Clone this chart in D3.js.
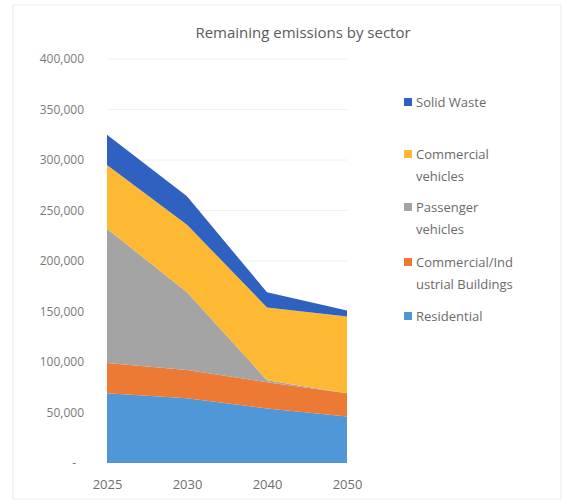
<!DOCTYPE html>
<html>
<head>
<title>Remaining emissions by sector</title>
<script src="https://d3js.org/d3.v7.min.js"></script>
<style>
  body { margin: 0; background: #fff; }
  text { font-family: "Open Sans", "Liberation Sans", sans-serif; }
</style>
</head>
<body>
<script>
var width = 572,
    height = 504;

// data (tonnes)
var years = ["2025", "2030", "2040", "2050"];
var sectors = ["Residential", "Commercial/Industrial Buildings", "Passenger vehicles", "Commercial vehicles", "Solid Waste"];
var residential = [69000, 64000, 54000, 46000];
var buildings = [30000, 28000, 26000, 23000];
var passenger = [133000, 77000, 2000, 0];
var commercial = [63000, 67000, 72000, 76000];
var solidWaste = [30000, 28000, 15000, 6000];
var yTicks = [0, 50000, 100000, 150000, 200000, 250000, 300000, 350000, 400000];

var colors = ["#4f97d6", "#ec7a34", "#a4a4a4", "#fdb933", "#2f62c0"];
var legendLines = [
    ["Solid Waste"],
    ["Commercial", "vehicles"],
    ["Passenger", "vehicles"],
    ["Commercial/Ind", "ustrial Buildings"],
    ["Residential"]
];
var legendColorIdx = [4, 3, 2, 1, 0];
var legendY = [103, 155, 208, 263, 317];

var rows = years.map(function(y, i) {
    return {year: y, r: residential[i], b: buildings[i], p: passenger[i], c: commercial[i], s: solidWaste[i]};
});
var keys = ["r", "b", "p", "c", "s"];

var svg = d3.select("body").append("svg")
    .attr("width", width)
    .attr("height", height);

// faint frame of the chart area
svg.append("rect")
    .attr("x", 13).attr("y", 5)
    .attr("width", 548).attr("height", 494)
    .attr("fill", "none")
    .attr("stroke", "#ececec");

var x = d3.scalePoint()
    .domain(years)
    .range([107, 347]);

var y = d3.scaleLinear()
    .domain([0, 400000])
    .range([463, 59]);

// gridlines
svg.append("g")
    .selectAll("line")
    .data(yTicks.slice(1))
    .enter().append("line")
    .attr("x1", 107).attr("x2", 347)
    .attr("y1", function(d) { return y(d); })
    .attr("y2", function(d) { return y(d); })
    .attr("stroke", "#f0f0f0");

var stack = d3.stack().keys(keys);
var series = stack(rows);

var area = d3.area()
    .x(function(d) { return x(d.data.year); })
    .y0(function(d) { return y(d[0]); })
    .y1(function(d) { return y(d[1]); });

svg.append("g")
    .selectAll("path")
    .data(series)
    .enter().append("path")
    .attr("d", area)
    .attr("fill", function(d, i) { return colors[i]; });

// y axis labels
var yAxis = d3.axisLeft(y)
    .tickValues(yTicks)
    .tickSize(0)
    .tickPadding(0)
    .tickFormat(function(d) { return d === 0 ? "-" : d3.format(",")(d); });
var gy = svg.append("g")
    .attr("transform", "translate(84,0)")
    .call(yAxis);
gy.select(".domain").remove();
gy.selectAll("text")
    .attr("fill", "#7a7a7a")
    .style("font-size", "12px")
    .attr("dx", function(d) { return d === 0 ? "-8px" : 0; });

// x axis labels
var xAxis = d3.axisBottom(x).tickSize(0).tickPadding(0);
var gx = svg.append("g")
    .attr("transform", "translate(0,480)")
    .call(xAxis);
gx.select(".domain").remove();
gx.selectAll("text")
    .attr("fill", "#6f6f6f")
    .style("font-size", "13px");

// title
svg.append("text")
    .attr("x", 303)
    .attr("y", 38)
    .attr("text-anchor", "middle")
    .attr("fill", "#5a5a5a")
    .style("font-size", "15px")
    .text("Remaining emissions by sector");

// legend
var legend = svg.append("g")
    .selectAll("g")
    .data(legendLines)
    .enter().append("g")
    .attr("transform", function(d, i) { return "translate(404," + legendY[i] + ")"; });

legend.append("rect")
    .attr("x", 0).attr("y", -5)
    .attr("width", 8).attr("height", 8)
    .attr("fill", function(d, i) { return colors[legendColorIdx[i]]; });

legend.append("text")
    .attr("x", 12)
    .attr("y", 4)
    .attr("fill", "#6a6a6a")
    .style("font-size", "13px")
    .selectAll("tspan")
    .data(function(d) { return d; })
    .enter().append("tspan")
    .attr("x", 12)
    .attr("dy", function(d, i) { return i === 0 ? 0 : 22; })
    .text(function(d) { return d; });
</script>
</body>
</html>
